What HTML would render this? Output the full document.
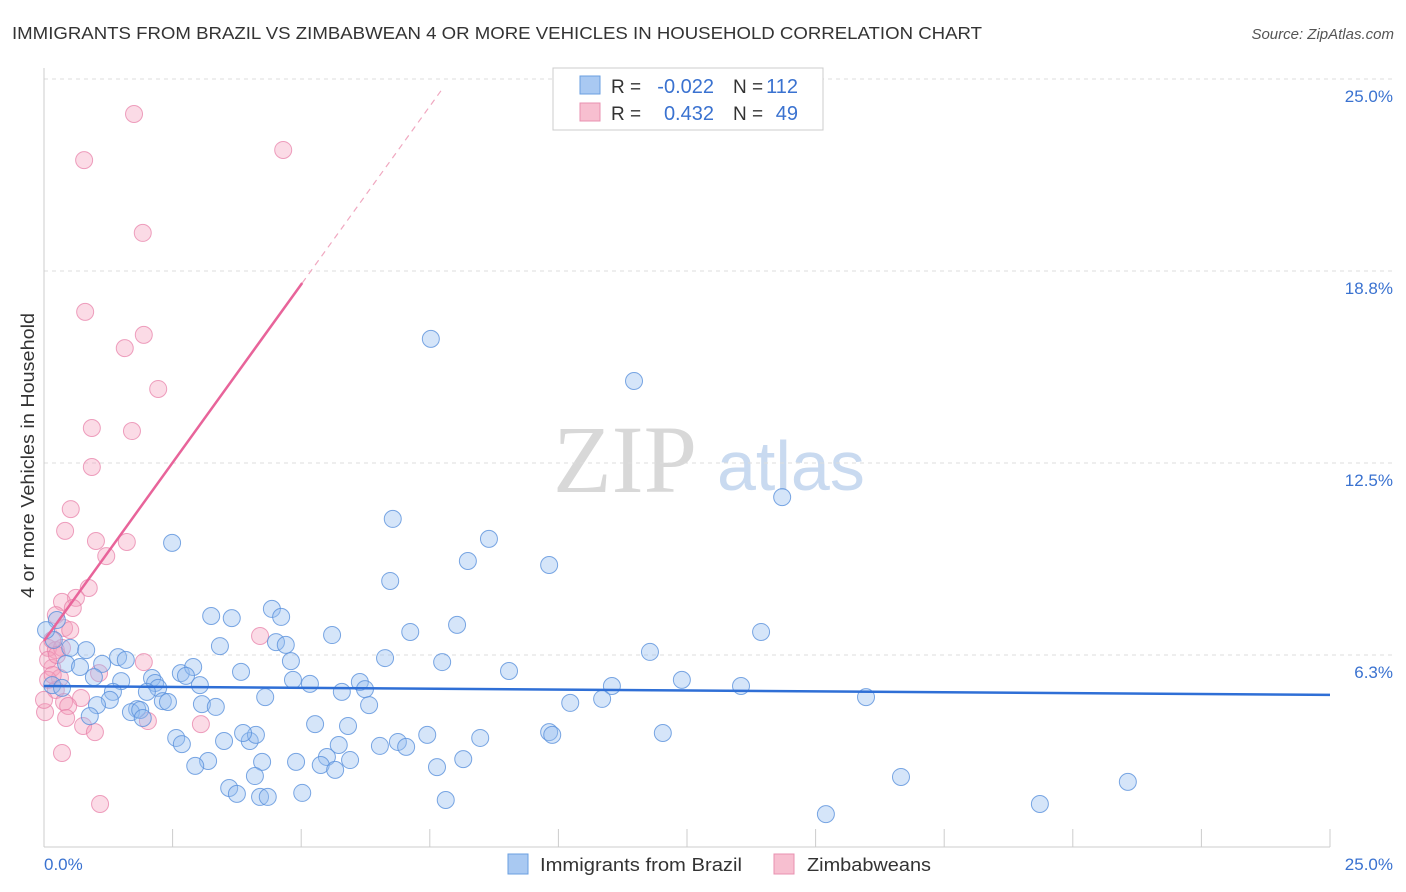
<!DOCTYPE html>
<html><head><meta charset="utf-8"><style>
body{margin:0;background:#fff;font-family:"Liberation Sans",sans-serif;}
svg{display:block}
</style></head><body>
<svg id="chart" width="1406" height="892" xmlns="http://www.w3.org/2000/svg">
<text x="12" y="39" font-size="17.5" fill="#333" textLength="970" lengthAdjust="spacingAndGlyphs">IMMIGRANTS FROM BRAZIL VS ZIMBABWEAN 4 OR MORE VEHICLES IN HOUSEHOLD CORRELATION CHART</text>
<text x="1394" y="39" font-size="15" fill="#555" text-anchor="end" font-style="italic">Source: ZipAtlas.com</text>
<text x="34" y="598" font-size="18" fill="#333" textLength="285" lengthAdjust="spacingAndGlyphs" transform="rotate(-90 34 598)">4 or more Vehicles in Household</text>
<g>
<text x="553" y="492" font-size="96" font-family="Liberation Serif,serif" fill="#d8d8d8">ZIP</text>
<text x="717" y="490" font-size="70" fill="#c9daf0">atlas</text>
</g>
<g id="grid"></g><g id="axes"></g><g id="pts"></g><g id="trends"></g>
<g>
<rect x="553" y="68" width="270" height="62" fill="#fff" stroke="#ccc"/>
<rect x="580" y="76" width="20" height="18" fill="#a9c9f2" stroke="#6a9fe0"/>
<rect x="580" y="103" width="20" height="18" fill="#f7bfd0" stroke="#e890b0"/>
<text x="611" y="93" font-size="19" fill="#333">R =</text>
<text x="714" y="93" font-size="20" fill="#3a72d0" text-anchor="end">-0.022</text>
<text x="733" y="93" font-size="19" fill="#333">N =</text>
<text x="798" y="93" font-size="20" fill="#3a72d0" text-anchor="end">112</text>
<text x="611" y="120" font-size="19" fill="#333">R =</text>
<text x="714" y="120" font-size="20" fill="#3a72d0" text-anchor="end">0.432</text>
<text x="733" y="120" font-size="19" fill="#333">N =</text>
<text x="798" y="120" font-size="20" fill="#3a72d0" text-anchor="end">49</text>
</g>
<g>
<rect x="508" y="854" width="20" height="20" fill="#a9c9f2" stroke="#6a9fe0"/>
<text x="540" y="871" font-size="18" fill="#333" textLength="202" lengthAdjust="spacingAndGlyphs">Immigrants from Brazil</text>
<rect x="774" y="854" width="20" height="20" fill="#f7bfd0" stroke="#e890b0"/>
<text x="807" y="871" font-size="18" fill="#333" textLength="124" lengthAdjust="spacingAndGlyphs">Zimbabweans</text>
</g>
</svg>
<script>
const yTicks=[6.25,12.5,18.75,25];
const yTickLabels=["6.3%","12.5%","18.8%","25.0%"];
const xEndLabels=["0.0%","25.0%"];
const brazilX=[7.52,11.47,14.35,6.78,8.65,2.49,8.24,9.82,6.73,4.43,3.25,3.65,4.61,8.03,7.12,5.60,13.94,3.42,4.51,4.70,11.78,0.19,0.51,0.82,6.63,7.74,1.44,1.59,1.13,4.80,0.43,0.70,9.04,3.83,2.66,2.90,2.76,2.10,1.50,0.97,4.84,5.17,6.14,12.40,11.04,13.55,0.16,0.35,2.16,3.03,2.22,6.24,5.79,1.34,4.30,2.00,1.28,2.31,2.41,15.98,10.85,10.23,6.32,1.03,3.07,3.34,1.81,1.69,1.87,1.92,0.89,5.27,5.91,2.57,2.68,3.50,4.00,4.12,3.87,9.82,9.88,12.03,7.45,8.48,6.53,6.88,7.04,5.73,3.19,2.94,5.50,4.24,4.90,5.38,5.95,5.66,7.64,8.15,4.10,3.60,3.75,4.20,4.35,5.02,7.81,16.66,21.07,19.36,15.20,0.25,0.04];
const brazilY=[16.54,15.17,11.39,10.68,10.03,9.90,9.31,9.18,8.66,7.75,7.52,7.45,7.49,7.23,7.00,6.90,7.00,6.54,6.67,6.58,6.35,6.74,6.48,6.41,6.15,6.02,6.18,6.09,5.96,6.05,5.96,5.86,5.73,5.70,5.66,5.86,5.57,5.50,5.40,5.53,5.44,5.31,5.37,5.44,5.24,5.24,5.27,5.18,5.34,5.27,5.18,5.14,5.05,5.05,4.88,5.05,4.79,4.75,4.72,4.88,4.82,4.69,4.62,4.62,4.65,4.56,4.49,4.39,4.46,4.20,4.26,4.00,3.94,3.55,3.35,3.45,3.45,3.65,3.71,3.74,3.65,3.71,3.65,3.55,3.29,3.42,3.26,3.32,2.80,2.64,2.93,2.77,2.77,2.67,2.83,2.51,2.60,2.86,2.31,1.92,1.73,1.63,1.63,1.76,1.53,2.28,2.12,1.40,1.07,7.39,7.06];
const zimX=[1.75,0.78,4.65,1.92,0.80,1.94,1.57,2.22,0.93,1.71,0.93,0.52,0.41,1.01,1.61,1.21,0.87,0.62,0.35,0.56,0.23,0.39,0.51,4.20,0.08,0.23,0.35,1.94,0.16,1.07,0.31,0.08,0.23,0.72,0.39,0.47,0.02,0.43,2.02,3.05,0.76,0.99,0.35,1.09,0.08,0.16,0.25,0.00,0.17];
const zimY=[23.86,22.36,22.69,19.99,17.42,16.67,16.24,14.91,13.64,13.54,12.37,11.00,10.29,9.96,9.93,9.47,8.43,8.11,7.98,7.78,7.55,7.13,7.06,6.87,6.48,6.41,6.48,6.02,5.83,5.66,5.50,5.44,5.11,4.85,4.72,4.59,4.39,4.20,4.10,4.00,3.94,3.74,3.06,1.40,6.09,6.74,6.25,4.79,5.60];
const brazilTrendX=[0,25], brazilTrendY=[5.24,4.95];
const zimTrendX=[0,5.02,7.74], zimTrendY=[6.71,18.36,24.67];

const X0=44,X1=1330,Y0=847,Y1=79;
const sx=v=>X0+(v/25)*(X1-X0);
const sy=v=>Y0-(v/25)*(Y0-Y1);
const NS="http://www.w3.org/2000/svg";
function mk(tag,attrs,parent){const e=document.createElementNS(NS,tag);for(const k in attrs)e.setAttribute(k,attrs[k]);parent.appendChild(e);return e;}
const grid=document.getElementById('grid'),axes=document.getElementById('axes'),pts=document.getElementById('pts'),tr=document.getElementById('trends');
yTicks.forEach((t,i)=>{
  const l=mk('line',{x1:X0,x2:1394,y1:sy(t),y2:sy(t),stroke:'#ddd','stroke-dasharray':'4,4'},grid);
  
  
  const tx=mk('text',{x:1393,y:sy(t)+23,'font-size':17,fill:'#3a72d0','text-anchor':'end'},axes);
  tx.textContent=yTickLabels[i];
  
  
});
const ax=mk('line',{x1:X0,x2:X1,y1:Y0,y2:Y0,stroke:'#ccc'},axes);


const ay=mk('line',{x1:X0,x2:X0,y1:68,y2:Y0,stroke:'#ccc'},axes);


for(let i=0;i<=10;i++){
  const t=mk('line',{x1:sx(i*2.5),x2:sx(i*2.5),y1:Y0,y2:Y0-18,stroke:'#ccc'},axes);
  
  
}
const xl0=mk('text',{x:44,y:870,'font-size':17,fill:'#3a72d0'},axes);xl0.textContent=xEndLabels[0];


const xl1=mk('text',{x:1393,y:870,'font-size':17,fill:'#3a72d0','text-anchor':'end'},axes);xl1.textContent=xEndLabels[1];


zimX.forEach((x,i)=>{
  const c=mk('circle',{cx:sx(x),cy:sy(zimY[i]),r:8.5,fill:'rgba(244,160,190,0.38)',stroke:'rgba(232,130,170,0.75)','stroke-width':1},pts);
  
  
});
brazilX.forEach((x,i)=>{
  const c=mk('circle',{cx:sx(x),cy:sy(brazilY[i]),r:8.5,fill:'rgba(150,190,240,0.4)',stroke:'rgba(90,145,220,0.8)','stroke-width':1},pts);
  
  
});
const bl=mk('line',{x1:sx(brazilTrendX[0]),y1:sy(brazilTrendY[0]),x2:sx(brazilTrendX[1]),y2:sy(brazilTrendY[1]),stroke:'#2f6fd6','stroke-width':2.5},tr);


const zl=mk('line',{x1:sx(zimTrendX[0]),y1:sy(zimTrendY[0]),x2:sx(zimTrendX[1]),y2:sy(zimTrendY[1]),stroke:'#e8649a','stroke-width':2.5},tr);


const zd=mk('line',{x1:sx(zimTrendX[1]),y1:sy(zimTrendY[1]),x2:sx(zimTrendX[2]),y2:sy(zimTrendY[2]),stroke:'#f0a8c0','stroke-width':1.2,'stroke-dasharray':'6,5'},tr);


</script>
</body></html>
